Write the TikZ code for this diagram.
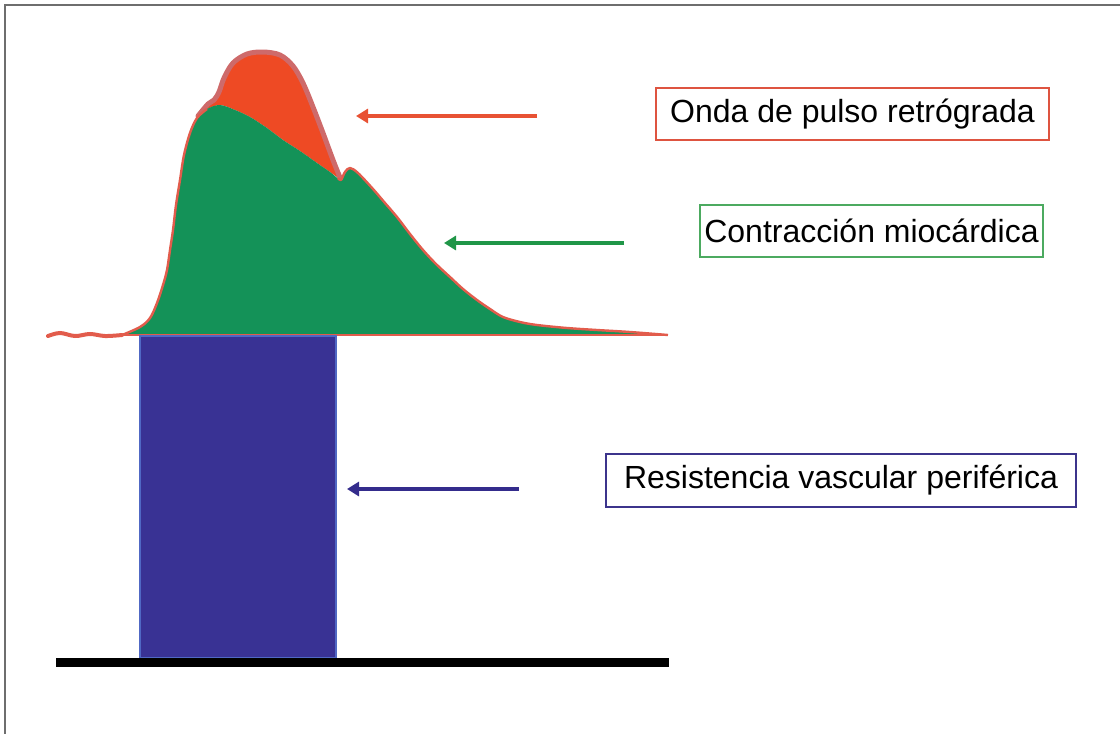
\documentclass[tikz,border=0pt]{standalone}
\usepackage{fontspec}
\setmainfont{Liberation Sans}
\usetikzlibrary{arrows.meta}
\definecolor{framegray}{RGB}{110,110,110}
\definecolor{wavegreen}{RGB}{20,146,88}
\definecolor{wavered}{RGB}{238,74,36}
\definecolor{waveline}{RGB}{226,92,76}
\definecolor{waverose}{RGB}{206,106,106}
\definecolor{barblue}{RGB}{57,50,148}
\definecolor{baredge}{RGB}{80,104,196}
\definecolor{redarrow}{RGB}{232,82,52}
\definecolor{greenarrow}{RGB}{32,150,72}
\definecolor{bluearrow}{RGB}{52,44,140}
\definecolor{redbox}{RGB}{222,84,64}
\definecolor{greenbox}{RGB}{76,170,96}
\definecolor{bluebox}{RGB}{60,52,140}
\tikzset{
  namebox/.style={draw=#1, line width=1.2pt, fill=white, inner sep=0pt,
    font=\fontsize{16}{19}\selectfont},
  pointer/.style={draw=#1, line width=2pt, -{Triangle[length=6pt,width=7pt]}},
}
\begin{document}
\begin{tikzpicture}[x=0.5pt,y=-0.5pt]
  \useasboundingbox (0,0) rectangle (1120,734);
  \draw[framegray, line width=0.8pt] (5,734) -- (5,5) -- (1120,5);
      % retrograde wave on top
      \fill[wavered] plot[smooth, tension=0.55] coordinates {(200,113) (208,104) (214,100) (219,92) (224,78) (233,63) (247,54) (263,52) (280,55) (293,66) (303,83) (313,107) (323,133) (333,160) (341,180)}
        -- plot[smooth, tension=0.55] coordinates {(330,172) (317,163) (300,151) (283,140) (267,128) (250,117) (235,110) (220,105) (207,109)} -- cycle;
      \draw[waverose, line width=2.5pt, line cap=round] plot[smooth, tension=0.55] coordinates {(198,116) (208,104) (214,100) (219,92) (224,78) (233,63) (247,54) (263,52) (280,55) (293,66) (303,83) (313,107) (323,133) (333,160) (341,180)};
      % myocardial wave
      \fill[wavegreen] plot[smooth, tension=0.55] coordinates {(122,335) (140,327) (150,318) (157,303) (163,285) (167,270) (170,250) (173,230) (176,205) (180,180) (184,155) (190,133) (197,118) (207,109) (220,105) (235,110) (250,117) (267,128) (283,140) (300,151) (317,163) (330,172) (341,180) (345,172) (350,168) (358,173) (373,189) (385,203) (397,217) (410,234) (423,250) (436,264) (450,277) (463,289) (477,300) (490,309) (503,317) (520,322) (537,325) (567,328) (597,330) (630,332) (667,335)} -- cycle;
      \draw[waveline, line width=1.2pt, line join=round] plot[smooth, tension=0.55] coordinates {(122,335) (140,327) (150,318) (157,303) (163,285) (167,270) (170,250) (173,230) (176,205) (180,180) (184,155) (190,133) (197,118) (207,109)};
      \draw[waveline, line width=1.2pt, line join=round] plot[smooth, tension=0.55] coordinates {(338,178) (341,180) (345,172) (350,168) (358,173) (373,189) (385,203) (397,217) (410,234) (423,250) (436,264) (450,277) (463,289) (477,300) (490,309) (503,317) (520,322) (537,325) (567,328) (597,330) (630,332) (668,335)};
      \draw[waveline, line width=2pt, line cap=round] plot[smooth, tension=0.6] coordinates {(48,336) (60,333) (75,336) (90,334) (105,336) (122,335)};
      \draw[waveline, line width=1pt] (122,335) -- (668,335);
      % peripheral resistance
      \draw[baredge, fill=barblue, line width=0.8pt] (140,336) rectangle (336,658);
      \fill[black] (56,658) rectangle (669,667);
  \coordinate (redtail) at (537,116);
  \coordinate (redtip) at (356,116);
  \coordinate (greentail) at (624,243);
  \coordinate (greentip) at (444,243);
  \coordinate (bluetail) at (519,489);
  \coordinate (bluetip) at (347,489);
      \draw[pointer=redarrow] (redtail) -- (redtip);
      \draw[pointer=greenarrow] (greentail) -- (greentip);
      \draw[pointer=bluearrow] (bluetail) -- (bluetip);
  \node[namebox=redbox, minimum width=196.5pt, minimum height=26pt] (onda) at (852.5,114) {Onda de pulso retrógrada};
  \node[namebox=greenbox, minimum width=171.5pt, minimum height=26pt] (contra) at (871.5,231) {Contracción miocárdica};
  \node[namebox=bluebox, minimum width=235pt, minimum height=26.5pt] (resist) at (841,480.5) {Resistencia vascular periférica};
\end{tikzpicture}
\end{document}
